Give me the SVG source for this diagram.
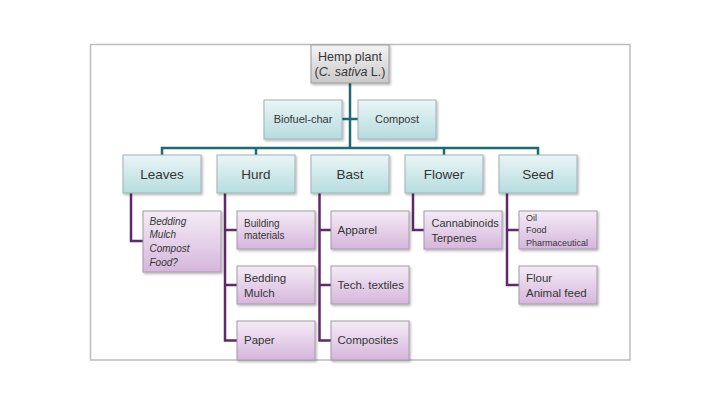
<svg xmlns="http://www.w3.org/2000/svg" width="720" height="405" viewBox="0 0 720 405">
<defs>
<linearGradient id="gTeal" x1="0" y1="0" x2="0" y2="1"><stop offset="0" stop-color="#eaf5f6"/><stop offset="1" stop-color="#b6dcdf"/></linearGradient>
<linearGradient id="gPurp" x1="0" y1="0" x2="0" y2="1"><stop offset="0" stop-color="#f4ecf6"/><stop offset="1" stop-color="#d6b6dc"/></linearGradient>
<linearGradient id="gGray" x1="0" y1="0" x2="0" y2="1"><stop offset="0" stop-color="#f4f4f4"/><stop offset="1" stop-color="#c9c9c9"/></linearGradient>
<filter id="sh" x="-10%" y="-10%" width="130%" height="140%"><feDropShadow dx="1.2" dy="1.5" stdDeviation="1" flood-color="#000" flood-opacity="0.3"/></filter>
</defs>
<style>
text{font-family:"Liberation Sans",Arial,sans-serif;fill:#353535}
.t{fill:url(#gTeal);stroke:#a3b1b3;stroke-width:1;filter:url(#sh)}
.p{fill:url(#gPurp);stroke:#a59aa8;stroke-width:1;filter:url(#sh)}
.g{fill:url(#gGray);stroke:#9c9c9c;stroke-width:1;filter:url(#sh)}
.c{text-anchor:middle}
.tl{fill:none;stroke:#1d6a6f;stroke-width:2.5}
.pl{fill:none;stroke:#5e2a68;stroke-width:2.5}
.l2{font-size:13.5px}
.s{font-size:11.5px}
</style>
<rect x="0" y="0" width="720" height="405" fill="#fff"/>
<rect x="90.5" y="44.5" width="539.5" height="315.5" fill="#fff" stroke="#bdbdbd" stroke-width="1.5"/>
<g id="connectors">
<path class="tl" d="M350 83V148M342 119H358M162 155V148H538V155M256 148V155M444 148V155"/>
<path class="pl" d="M131 193V241H143M225 193V340.5H237M225 230H237M225 285H237M319.5 193V340.5H331M319.5 230H331M319.5 285H331M413 193V230H424M507 193V285H519M507 230H519"/>
</g>
<g id="hemp"><rect class="g" x="311" y="45" width="78" height="38"/><text class="c" x="350" y="60.5" font-size="12.5">Hemp plant</text><text class="c" x="350" y="76" font-size="12.5">(<tspan font-style="italic">C. sativa</tspan> L.)</text></g>
<g id="biofuel"><rect class="t" x="264" y="100" width="78" height="39"/><text class="c" x="303" y="123" font-size="11">Biofuel-char</text></g>
<g id="compost"><rect class="t" x="358" y="100" width="78" height="39"/><text class="c" x="397" y="123" font-size="11">Compost</text></g>
<g id="leaves"><rect class="t" x="123" y="155" width="78" height="38"/><text class="c l2" x="162" y="179">Leaves</text></g>
<g id="hurd"><rect class="t" x="217" y="155" width="78" height="38"/><text class="c l2" x="256" y="179">Hurd</text></g>
<g id="bast"><rect class="t" x="311" y="155" width="78" height="38"/><text class="c l2" x="350" y="179">Bast</text></g>
<g id="flower"><rect class="t" x="405" y="155" width="78" height="38"/><text class="c l2" x="444" y="179">Flower</text></g>
<g id="seed"><rect class="t" x="499" y="155" width="78" height="38"/><text class="c l2" x="538" y="179">Seed</text></g>
<g id="leaves-uses"><rect class="p" x="143" y="211" width="78" height="61"/><text x="149.5" y="224.5" font-size="10" font-style="italic">Bedding</text><text x="149.5" y="238.3" font-size="10" font-style="italic">Mulch</text><text x="149.5" y="252.1" font-size="10" font-style="italic">Compost</text><text x="149.5" y="266" font-size="10" font-style="italic">Food?</text></g>
<g id="building"><rect class="p" x="237" y="211" width="78" height="38"/><text x="244" y="227" font-size="10">Building</text><text x="244" y="239" font-size="10">materials</text></g>
<g id="hurd-bedding"><rect class="p" x="237" y="266" width="78" height="38"/><text class="s" x="244" y="282">Bedding</text><text class="s" x="244" y="297">Mulch</text></g>
<g id="paper"><rect class="p" x="237" y="321" width="78" height="39"/><text class="s" x="244" y="344">Paper</text></g>
<g id="apparel"><rect class="p" x="331" y="211" width="78" height="38"/><text class="s" x="337.5" y="234">Apparel</text></g>
<g id="textiles"><rect class="p" x="331" y="266" width="78" height="38"/><text class="s" x="337.5" y="289">Tech. textiles</text></g>
<g id="composites"><rect class="p" x="331" y="321" width="78" height="39"/><text class="s" x="337.5" y="344">Composites</text></g>
<g id="cannabinoids"><rect class="p" x="424" y="211" width="78" height="38"/><text x="431.5" y="226.5" font-size="11">Cannabinoids</text><text x="431.5" y="242" font-size="11">Terpenes</text></g>
<g id="oil"><rect class="p" x="519" y="211" width="78" height="38"/><text x="526" y="221" font-size="9">Oil</text><text x="526" y="233" font-size="9">Food</text><text x="526" y="245.5" font-size="9">Pharmaceutical</text></g>
<g id="flour"><rect class="p" x="519" y="266" width="78" height="38"/><text class="s" x="526" y="282">Flour</text><text class="s" x="526" y="297">Animal feed</text></g>
</svg>
